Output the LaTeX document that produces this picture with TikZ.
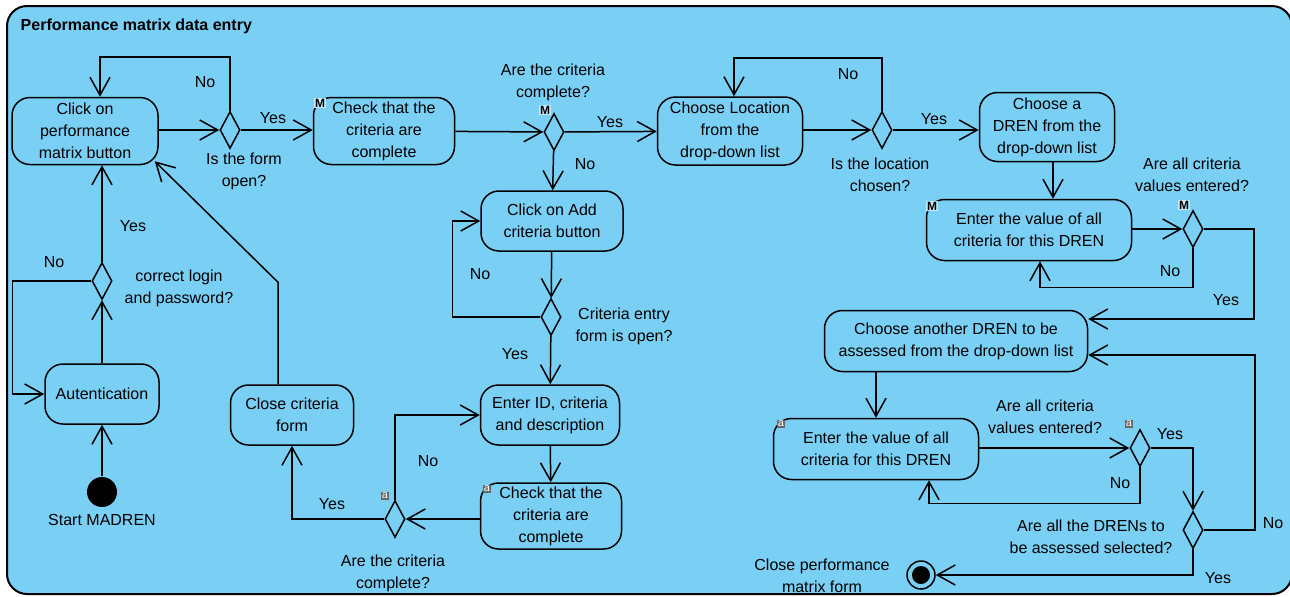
\documentclass[tikz,border=0pt]{standalone}
\usepackage{fontspec}
\setmainfont{Liberation Sans}
\usepackage{tikz}
\usetikzlibrary{shapes.geometric}
\usetikzlibrary{arrows.meta}
\usetikzlibrary{calc}

\definecolor{panelblue}{RGB}{122,207,245}

\begin{document}
\begin{tikzpicture}[x=0.5pt, y=-0.5pt, line width=0.75pt,
  font=\fontsize{8}{11}\selectfont,
  act/.style={draw, rounded corners=9pt, align=center, inner sep=0pt},
  dec/.style={draw, diamond, inner sep=0pt, minimum width=10pt, minimum height=18.5pt},
  flow/.style={-{Straight Barb[length=9pt, width=10pt]}},
  lbl/.style={align=center, inner sep=0pt},
  mflag/.style={inner sep=0.3pt, fill=white!55!panelblue, font=\fontsize{6}{6}\selectfont\bfseries},
  aflag/.style={inner sep=0.7pt, fill=black!60, text=white, font=\fontsize{5.5}{5.5}\selectfont}]
\fill[white] (0,0) rectangle (1290,596);
\useasboundingbox (0,0) rectangle (1290,596);
\draw[line width=1pt, fill=panelblue, rounded corners=10pt] (7,6) rectangle (1292,594);
\node[lbl, anchor=west, font=\fontsize{8}{11}\selectfont\bfseries] (title) at (20,26) {Performance matrix data entry};

\node[act, minimum width=73pt, minimum height=33.5pt] (click) at (85,131) {Click on\\performance\\matrix button};
\node[act, minimum width=70.5pt, minimum height=33.5pt] (check1) at (384,131) {Check that the\\criteria are\\complete};
\node[act, minimum width=72.5pt, minimum height=34pt] (loc) at (730,131) {Choose Location\\from the\\drop-down list};
\node[act, minimum width=67.5pt, minimum height=34.5pt] (dren) at (1047,127) {Choose a\\DREN from the\\drop-down list};
\node[act, minimum width=102.5pt, minimum height=30.5pt] (enterm) at (1029,230) {Enter the value of all\\criteria for this DREN};
\node[act, minimum width=71pt, minimum height=30pt] (addcrit) at (552,221) {Click on Add\\criteria button};
\node[act, minimum width=69.5pt, minimum height=30pt] (enterid) at (550,415) {Enter ID, criteria\\and description};
\node[act, minimum width=70.5pt, minimum height=33pt] (check2) at (551,516) {Check that the\\criteria are\\complete};
\node[act, minimum width=61.5pt, minimum height=30pt] (close) at (292,415) {Close criteria\\form};
\node[act, minimum width=57pt, minimum height=30pt] (auth) at (102,394) {Autentication};
\node[act, minimum width=131.5pt, minimum height=30.5pt] (another) at (956,341) {Choose another DREN to be\\assessed from the drop-down list};
\node[act, minimum width=102.5pt, minimum height=30.5pt] (entera) at (876,449) {Enter the value of all\\criteria for this DREN};

\node[dec] (d1) at (230,130) {};
\node[dec] (d2) at (554,132) {};
\node[dec] (d3) at (882,130) {};
\node[dec] (d4) at (1193,229) {};
\node[dec] (d5) at (102,281) {};
\node[dec] (d6) at (551,317) {};
\node[dec] (d7) at (395,519) {};
\node[dec] (d8) at (1140,448) {};
\node[dec] (d9) at (1193,530) {};

\node[circle, fill=black, minimum size=15pt, inner sep=0pt] (start) at (102,492) {};
\node[lbl] (startlbl) at (102,520) {Start MADREN};
\node[circle, draw, minimum size=14pt, inner sep=0pt] (stop) at (921,575) {};
\fill (stop.center) circle (4.5pt);
\node[lbl] (stoplbl) at (822,576) {Close performance\\matrix form};

\node[mflag] (m1) at (320,103) {M};
\node[mflag] (m2) at (545,110) {M};
\node[mflag] (m3) at (932,206) {M};
\node[mflag] (m4) at (1184,205) {M};
\node[aflag] (a1) at (487,489) {a};
\node[aflag] (a2) at (385,496) {a};
\node[aflag] (a3) at (781,424) {a};
\node[aflag] (a4) at (1129,424) {a};

\node[lbl] (q1) at (244,171) {Is the form\\open?};
\node[lbl] (q2) at (553,82) {Are the criteria\\complete?};
\node[lbl] (q3) at (880,175) {Is the location\\chosen?};
\node[lbl] (q4) at (1192,175) {Are all criteria\\values entered?};
\node[lbl] (q5) at (179,288) {correct login\\and password?};
\node[lbl] (q6) at (624,326) {Criteria entry\\form is open?};
\node[lbl] (q7) at (393,573) {Are the criteria\\complete?};
\node[lbl] (q8) at (1045,417) {Are all criteria\\values entered?};
\node[lbl] (q9) at (1091,537) {Are all the DRENs to\\be assessed selected?};

\node[lbl] (n1) at (205,82) {No};
\node[lbl] (y1) at (273,118) {Yes};
\node[lbl] (y2) at (610,122) {Yes};
\node[lbl] (n2) at (585,164) {No};
\node[lbl] (n3) at (848,74) {No};
\node[lbl] (y3) at (934,119) {Yes};
\node[lbl] (n4) at (1170,271) {No};
\node[lbl] (y4) at (1226,300) {Yes};
\node[lbl] (y5) at (133,226) {Yes};
\node[lbl] (n5) at (54,262) {No};
\node[lbl] (n6) at (480,274) {No};
\node[lbl] (y6) at (515,354) {Yes};
\node[lbl] (n7) at (428,461) {No};
\node[lbl] (y7) at (332,504) {Yes};
\node[lbl] (n8) at (1120,483) {No};
\node[lbl] (y8) at (1170,434) {Yes};
\node[lbl] (n9) at (1273,523) {No};
\node[lbl] (y9) at (1218,578) {Yes};

\coordinate (dj) at ($(dren.south)+(6,0)$);

\draw[flow] (start) -- (auth);
\draw[flow] (auth) -- (d5);
\draw[flow] (d5.north) -- (d5.north |- click.south);
\draw[flow] (d5.west) -- ++(-79,0) |- (auth.west);
\draw[flow] (click.east |- d1) -- (d1);
\draw[flow] (d1.north) -- ++(0,-54) -| ($(click.north)+(15,0)$);
\draw[flow] (d1) -- (d1 -| check1.west);
\draw[flow] (check1) -- (d2);
\draw[flow] (d2) -- (loc);
\draw[flow] (d2) -- (addcrit);
\draw[flow] (loc.east |- d3) -- (d3);
\draw[flow] (d3.north) -- ++(0,-53) -| ($(loc.north)+(4,0)$);
\draw[flow] (d3.east) -- (d3.east -| dren.west);
\draw[flow] (dj) -- (dj |- enterm.north);
\draw[flow] (enterm.east |- d4) -- (d4);
\draw[flow] (d4.south) -- ++(0,39) -| ($(enterm.south)+(11,0)$);
\draw[flow] (d4.east) -- ++(50,0) |- ($(another.east)+(0,-22)$);
\draw[flow] (entera.north |- another.south) -- (entera.north);
\draw[flow] (entera.east |- d8) -- (d8);
\draw[flow] (d8.south) -- ++(0,36) -| ($(entera.south)+(53,0)$);
\draw[flow] (d8.east) -| (d9.north);
\draw[flow] (d9.east) -- ++(51,0) |- ($(another.east)+(0,14)$);
\draw[flow] (d9.south) |- (stop);
\draw[flow] (addcrit) -- (d6);
\draw[flow] (d6.west) -- ++(-88,0) |- (addcrit.west);
\draw[flow] (d6) -- (enterid);
\draw[flow] (enterid) -- (check2);
\draw[flow] (check2.west |- d7.east) -- (d7.east);
\draw[flow] (d7.north) |- (enterid.west);
\draw[flow] (d7.west) -| (close.south);
\draw[flow] ($(close.north)+(-14,0)$) -- ++(0,-102) -- ($(click.south east)+(-4,-4)$);
\end{tikzpicture}
\end{document}
